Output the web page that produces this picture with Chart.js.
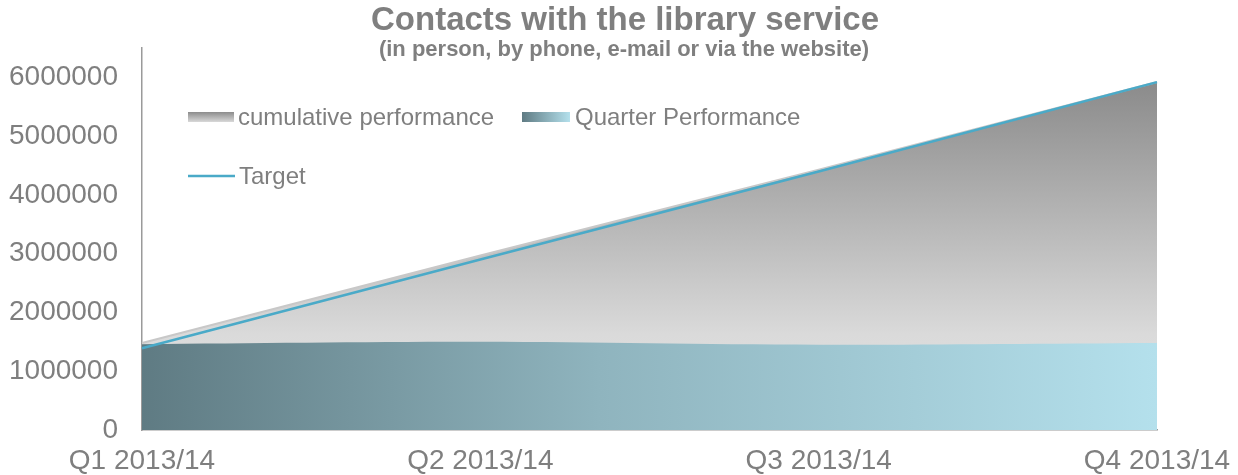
<!DOCTYPE html>
<html>
<head>
<meta charset="utf-8">
<script src="https://cdn.jsdelivr.net/npm/chart.js@4"></script>
<style>
  html, body { margin: 0; padding: 0; background: #fff; }
  #wrap { width: 1238px; height: 475px; position: relative; }
</style>
</head>
<body>
<div id="wrap"><canvas id="contactsChart"></canvas></div>
<script>
// data
const quarters = ['Q1 2013/14', 'Q2 2013/14', 'Q3 2013/14', 'Q4 2013/14'];
const quarterPerformance = [1460000, 1500000, 1450000, 1480000];
const cumulativePerformance = [1480000, 2970000, 4430000, 5920000];
const target = [1390000, 2900000, 4400000, 5920000];
const yTicks = [0, 1000000, 2000000, 3000000, 4000000, 5000000, 6000000];

const txtGray = '#7f7f7f';
const fontFam = '"Liberation Sans", Arial, sans-serif';

function cumulFill(c) {
  const ca = c.chart.chartArea;
  if (!ca) return '#bbb';
  const g = c.chart.ctx.createLinearGradient(0, ca.top, 0, ca.bottom);
  g.addColorStop(0, '#858585');
  g.addColorStop(0.1, '#8c8c8c');
  g.addColorStop(0.75, '#dadada');
  g.addColorStop(1, '#e4e4e4');
  return g;
}
function quarterFill(c) {
  const ca = c.chart.chartArea;
  if (!ca) return '#8fb';
  const g = c.chart.ctx.createLinearGradient(ca.left, 0, ca.right, 0);
  g.addColorStop(0, '#5f7b83');
  g.addColorStop(0.45, '#8fb4be');
  g.addColorStop(1, '#b4e0ec');
  return g;
}

// titles + in-plot legend
const decor = {
  id: 'decor',
  afterDraw(chart) {
    const ctx = chart.ctx;
    ctx.save();
    ctx.fillStyle = txtGray;
    ctx.textAlign = 'center';
    ctx.textBaseline = 'middle';
    ctx.font = 'bold 33px ' + fontFam;
    ctx.fillText('Contacts with the library service', 625, 21);
    ctx.font = 'bold 22px ' + fontFam;
    ctx.fillText('(in person, by phone, e-mail or via the website)', 624, 50);

    // legend
    ctx.textAlign = 'left';
    ctx.font = '24px ' + fontFam;
    let g = ctx.createLinearGradient(0, 112, 0, 123);
    g.addColorStop(0, '#8c8c8c'); g.addColorStop(1, '#e0e0e0');
    ctx.fillStyle = g;
    ctx.fillRect(188, 112, 46, 10);
    ctx.fillStyle = txtGray;
    ctx.fillText('cumulative performance', 238, 118);

    g = ctx.createLinearGradient(522, 0, 570, 0);
    g.addColorStop(0, '#5f7b83'); g.addColorStop(1, '#b4e0ec');
    ctx.fillStyle = g;
    ctx.fillRect(522, 112, 48, 10);
    ctx.fillStyle = txtGray;
    ctx.fillText('Quarter Performance', 575, 118);

    ctx.strokeStyle = '#4aaac8';
    ctx.lineWidth = 2.5;
    ctx.beginPath(); ctx.moveTo(188, 176); ctx.lineTo(235, 176); ctx.stroke();
    ctx.fillStyle = txtGray;
    ctx.fillText('Target', 239, 177);
    ctx.restore();
  }
};

new Chart(document.getElementById('contactsChart'), {
  type: 'line',
  data: {
    labels: quarters,
    datasets: [
      { label: 'Target', data: target, borderColor: '#4aaac8', borderWidth: 2.5,
        pointRadius: 0, fill: false, order: 0 },
      { label: 'Quarter Performance', data: quarterPerformance, borderWidth: 0,
        borderColor: 'rgba(0,0,0,0)', backgroundColor: quarterFill,
        pointRadius: 0, fill: 'origin', tension: 0.35, order: 1 },
      { label: 'cumulative performance', data: cumulativePerformance, borderWidth: 2,
        borderColor: '#c8c8c8', backgroundColor: cumulFill,
        pointRadius: 0, fill: 'origin', order: 2 }
    ]
  },
  options: {
    responsive: true,
    maintainAspectRatio: false,
    animation: false,
    layout: { padding: { left: 0, right: 81, top: 48, bottom: 0 } },
    plugins: {
      legend: { display: false },
      tooltip: { enabled: false }
    },
    scales: {
      x: {
        offset: false,
        grid: { display: false, drawOnChartArea: false, drawTicks: true, tickLength: 9, color: '#9a9a9a' },
        border: { color: '#9a9a9a', width: 1.5 },
        ticks: { color: txtGray, font: { family: fontFam, size: 28 }, padding: 5, maxRotation: 0 },
        afterFit(s) { s.height = 475 - 430; }
      },
      y: {
        min: 0,
        max: 6500000,
        grid: { display: false, drawOnChartArea: false, drawTicks: true, tickLength: 9, color: '#9a9a9a' },
        border: { color: '#9a9a9a', width: 1.5 },
        afterBuildTicks(s) { s.ticks = yTicks.map(v => ({ value: v })); },
        ticks: { color: txtGray, font: { family: fontFam, size: 28 }, padding: 15,
                 callback: v => String(v) },
        afterFit(s) { s.width = 142; }
      }
    }
  },
  plugins: [decor]
});
</script>
</body>
</html>
